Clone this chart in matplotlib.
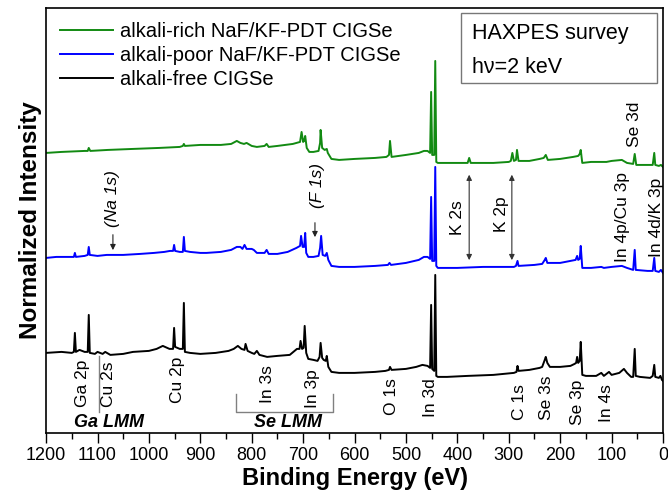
import matplotlib
matplotlib.use('Agg')
import matplotlib.pyplot as plt
from matplotlib.ticker import MultipleLocator
from matplotlib.patches import Rectangle

plt.rcParams['font.family'] = ['Liberation Sans', 'DejaVu Sans']

# Spectra: binding energy (eV) and offset intensity (arb. units)
free_be = [1200, 1170, 1150, 1146, 1144, 1142, 1135, 1125, 1119, 1117, 1115, 1105, 1100, 1090,
           1085, 1075, 1050, 1031, 1000, 985, 973, 960, 953, 951, 949, 940, 934, 932, 930, 920,
           900, 870, 845, 835, 827, 820, 814, 812, 808, 800, 795, 790, 785, 770, 750, 726, 712,
           707, 705, 702, 699, 697, 694, 690, 680, 672, 668, 666, 663, 660, 656, 654, 651, 645,
           630, 600, 560, 540, 533, 531, 528, 500, 480, 468, 458, 453, 451, 449, 445, 443, 441,
           438, 420, 380, 330, 290, 285, 283, 281, 260, 240, 235, 230, 228, 225, 220, 200, 180,
           172, 169, 167, 165, 162, 160, 157, 150, 130, 120, 115, 105, 100, 85, 76, 70, 62, 58,
           55, 53, 45, 25, 20, 17, 15, 8, 5, 2, 0]
free_int = [80, 81, 80, 81, 100, 81, 83, 81, 81, 118, 80, 79, 81, 79,
            81, 78, 79, 81, 82, 84, 87, 84, 84, 105, 86, 84, 84, 130, 81, 80,
            79, 80, 82, 84, 87, 84, 83, 89, 82, 80, 79, 82, 78, 76, 77, 78, 84,
            84, 92, 84, 85, 107, 80, 74, 73, 72, 76, 90, 75, 73, 72, 77, 66, 61,
            60, 60, 61, 62, 63, 66, 63, 64, 66, 68, 67, 65, 128, 64, 62, 158, 57,
            56, 56, 57, 58, 60, 61, 67, 62, 63, 65, 66, 73, 76, 70, 66, 66, 67,
            69, 70, 76, 70, 72, 91, 58, 57, 57, 60, 57, 61, 58, 60, 64, 60, 56, 56,
            84, 57, 56, 55, 57, 68, 56, 55, 57, 53, 52]

poor_be = [1200, 1180, 1150, 1146, 1144, 1142, 1125, 1119, 1117, 1115, 1100, 1082, 1050, 1017,
           990, 970, 959, 953, 951, 949, 940, 934, 932, 930, 920, 900, 888, 860, 840, 829, 822,
           818, 814, 810, 800, 796, 790, 775, 771, 767, 750, 730, 713, 706, 704, 701, 698, 696,
           694, 690, 680, 670, 667, 665, 662, 657, 654, 651, 645, 630, 600, 560, 535, 532, 529,
           500, 475, 465, 458, 453, 451, 449, 445, 443, 441, 438, 400, 350, 290, 286, 283, 281,
           250, 235, 230, 228, 225, 200, 180, 170, 167, 165, 162, 160, 157, 140, 120, 115, 100,
           80, 70, 58, 55, 53, 30, 20, 17, 15, 8, 4, 0]
poor_int = [175, 176, 176, 176, 180, 176, 177, 178, 186, 178, 177, 178, 178, 179,
            180, 181, 182, 182, 188, 182, 181, 181, 196, 182, 181, 180, 180, 181, 183, 186, 186,
            184, 188, 184, 184, 183, 180, 180, 183, 179, 179, 181, 185, 187, 197, 186, 186, 200,
            180, 176, 176, 177, 185, 197, 178, 177, 180, 173, 167, 166, 166, 167, 168, 170, 168,
            170, 173, 176, 176, 174, 236, 172, 172, 266, 167, 165, 165, 166, 166, 167, 172, 167,
            168, 169, 173, 175, 170, 170, 172, 173, 177, 173, 174, 187, 165, 165, 166, 165, 166,
            167, 165, 163, 183, 163, 162, 162, 175, 162, 161, 163, 160]

rich_be = [1200, 1170, 1125, 1119, 1117, 1114, 1080, 1031, 980, 940, 934, 932, 930, 900, 860,
           840, 829, 822, 815, 810, 800, 790, 775, 771, 767, 750, 720, 706, 703, 700, 698, 696,
           693, 688, 680, 670, 667, 666, 663, 658, 654, 652, 645, 630, 600, 560, 538, 533, 531,
           528, 500, 475, 465, 458, 453, 451, 449, 445, 443, 441, 438, 400, 380, 377, 374, 330,
           300, 296, 293, 290, 286, 284, 281, 260, 240, 232, 228, 224, 200, 175, 165, 162, 160,
           157, 140, 110, 100, 80, 70, 58, 55, 52, 30, 20, 17, 15, 8, 4, 0]
rich_int = [280, 281, 282, 282, 285, 282, 283, 284, 285, 286, 287, 289, 287, 288, 288,
            289, 292, 290, 289, 290, 287, 286, 287, 289, 286, 287, 289, 291, 301, 291, 292, 297,
            285, 281, 281, 282, 290, 303, 285, 283, 284, 280, 274, 273, 274, 275, 276, 278, 292,
            276, 278, 280, 282, 282, 280, 341, 278, 278, 372, 271, 270, 270, 270, 275, 270, 270,
            271, 272, 280, 272, 273, 283, 272, 272, 274, 275, 278, 273, 274, 276, 277, 279, 283,
            270, 271, 271, 272, 273, 270, 269, 279, 268, 268, 268, 280, 268, 267, 268, 266]

series_labels = ['alkali-rich NaF/KF-PDT CIGSe', 'alkali-poor NaF/KF-PDT CIGSe', 'alkali-free CIGSe']
series_colors = ['#128a12', '#0000ff', '#000000']

# Peak labels below the alkali-free spectrum: (text, energy, bottom of text)
low_labels = [('Ga 2p', 1130, 26), ('Cu 2s', 1079, 26), ('Cu 2p', 945, 30), ('In 3s', 770, 30),
              ('In 3p', 681, 25), ('O 1s', 529, 18), ('In 3d', 453, 16), ('C 1s', 280, 13),
              ('Se 3s', 226, 13), ('Se 3p', 166, 8), ('In 4s', 109, 11)]
# Labels between the spectra
mid_labels = [('In 4p/Cu 3p', 78, 171), ('In 4d/K 3p', 12, 176), ('Se 3d', 55, 286),
              ('K 2s', 399, 198), ('K 2p', 315, 201)]
k_arrows = [377, 294]

fig, ax = plt.subplots(figsize=(6.68, 4.97), dpi=100)
fig.subplots_adjust(left=0.069, right=0.9925, bottom=0.129, top=0.984)

for be, inten, lab, col in zip([rich_be, poor_be, free_be], [rich_int, poor_int, free_int],
                               series_labels, series_colors):
    ax.plot(be, inten, color=col, lw=1.4, label=lab)

ax.set_xlim(1200, 0)
ax.set_ylim(0, 425)
ax.xaxis.set_major_locator(MultipleLocator(100))
ax.xaxis.set_minor_locator(MultipleLocator(50))
ax.set_yticks([])
ax.tick_params(axis='x', which='major', direction='out', length=7, width=1, labelsize=13)
ax.tick_params(axis='x', which='minor', direction='out', length=4, width=1)
for sp in ax.spines.values():
    sp.set_linewidth(1.2)

ax.set_xlabel('Binding Energy (eV)', fontsize=17, fontweight='bold', labelpad=2)
ax.set_ylabel('Normalized Intensity', fontsize=17.5, fontweight='bold', labelpad=3)

leg = ax.legend(loc='upper left', frameon=False, fontsize=14.5, handlelength=2.6,
                handletextpad=0.35, labelspacing=0.25, borderaxespad=0.3)

# Info box
ax.add_patch(Rectangle((0.6726, 0.8235), 0.3174, 0.1645, transform=ax.transAxes,
                       fill=False, edgecolor='#777777', lw=1))
ax.text(0.690, 0.941, 'HAXPES survey', transform=ax.transAxes, fontsize=15.5, va='center')
ax.text(0.690, 0.861, 'h\u03bd=2 keV', transform=ax.transAxes, fontsize=15.5, va='center')

for txt, x, y in low_labels + mid_labels:
    ax.text(x, y, txt, rotation=90, ha='center', va='bottom', fontsize=12.5)

# Cu 2s marker and Se LMM bracket
ax.plot([1097, 1097], [21, 77], color='#808080', lw=1)
ax.plot([830, 830, 642, 642], [39, 21, 21, 39], color='#808080', lw=1)
ax.text(1077, 10, 'Ga LMM', ha='center', va='center', fontsize=13, fontweight='bold', style='italic')
ax.text(729, 10, 'Se LMM', ha='center', va='center', fontsize=13, fontweight='bold', style='italic')

# Na 1s and F 1s markers
ax.text(1070, 206, '(Na 1s)', rotation=90, ha='center', va='bottom', fontsize=12.5, style='italic')
ax.annotate('', xy=(1070, 180), xytext=(1070, 201),
            arrowprops=dict(arrowstyle='-|>', color='#222222', lw=0.8, mutation_scale=8))
ax.text(673, 225, '(F 1s)', rotation=90, ha='center', va='bottom', fontsize=12.5, style='italic')
ax.annotate('', xy=(677, 193), xytext=(677, 213),
            arrowprops=dict(arrowstyle='-|>', color='#222222', lw=0.8, mutation_scale=8))

for x in k_arrows:
    ax.annotate('', xy=(x, 170), xytext=(x, 261),
                arrowprops=dict(arrowstyle='<|-|>', color='#333333', lw=0.8, mutation_scale=8))

fig.savefig('out.png', dpi=100)
